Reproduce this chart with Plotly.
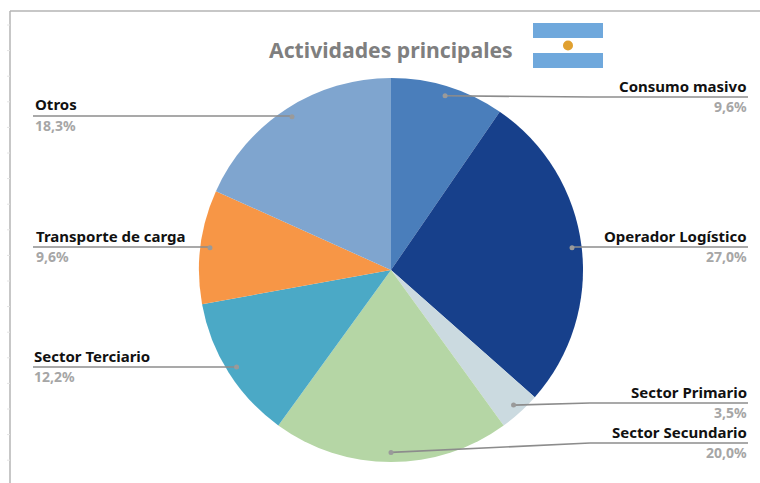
import math
import plotly.graph_objects as go

W, H = 760, 483
categories = ["Consumo masivo", "Operador Logístico", "Sector Primario", "Sector Secundario",
              "Sector Terciario", "Transporte de carga", "Otros"]
values = [9.6, 27.0, 3.5, 20.0, 12.2, 9.6, 18.3]
value_labels = ["9,6%", "27,0%", "3,5%", "20,0%", "12,2%", "9,6%", "18,3%"]
colors = ["#4A7EBB", "#17408B", "#CBDAE0", "#B5D6A5", "#4BA9C6", "#F79646", "#7FA5CF"]

CX, CY, R = 391, 270, 192
px = lambda x: x / W
py = lambda y: 1 - y / H

# label layout: side, line y, elbow x (None = straight), text edge x
label_layout = [
    ("right", 97, 590, 748), ("right", 247, None, 748), ("right", 403, 590, 748), ("right", 443, 590, 748),
    ("left", 367, None, 33), ("left", 247, None, 35), ("left", 116, None, 34),
]

fig = go.Figure(go.Pie(
    labels=categories, values=values, sort=False, direction="clockwise", rotation=0,
    marker=dict(colors=colors, line=dict(width=0)), textinfo="none", hoverinfo="label+percent",
    showlegend=False,
    domain=dict(x=[px(CX - R), px(CX + R)], y=[py(CY + R), py(CY - R)]),
))

shapes, annotations = [], []
GREY = "#8c8c8c"
LW = 1.6
def line(x0, y0, x1, y1, color=GREY, width=LW):
    shapes.append(dict(type="line", xref="paper", yref="paper", x0=px(x0), y0=py(y0), x1=px(x1), y1=py(y1),
                       line=dict(color=color, width=width)))

total = sum(values)
cum = 0
for cat, v, vl, (side, ly, elbow, tx) in zip(categories, values, value_labels, label_layout):
    a = 2 * math.pi * (cum + v / 2) / total
    cum += v
    dx, dy = CX + 0.95 * R * math.sin(a), CY - 0.95 * R * math.cos(a)
    edge = 748 if side == "right" else 33
    if elbow:
        line(dx, dy, elbow, ly)
        line(elbow, ly, edge, ly)
    else:
        line(dx, ly, edge, ly)
    shapes.append(dict(type="circle", xref="paper", yref="paper",
                       x0=px(dx - 2.5), x1=px(dx + 2.5), y0=py(dy + 2.5), y1=py(dy - 2.5),
                       fillcolor="#9a9a9a", line=dict(width=0)))
    anchor = "right" if side == "right" else "left"
    annotations.append(dict(xref="paper", yref="paper", x=px(tx), y=py(ly - 0.5), xanchor=anchor, yanchor="bottom",
                            text=f"<b>{cat}</b>", showarrow=False, borderpad=0,
                            font=dict(family="Noto Sans", size=15, color="#111111")))
    annotations.append(dict(xref="paper", yref="paper", x=px(tx), y=py(ly - 1), xanchor=anchor, yanchor="top",
                            text=f"<b>{vl}</b>", showarrow=False, borderpad=0,
                            font=dict(family="Noto Sans", size=14, color="#a6a6a6")))

annotations.append(dict(xref="paper", yref="paper", x=px(391), y=py(49), xanchor="center", yanchor="middle",
                        text="<b>Actividades principales</b>", showarrow=False,
                        font=dict(family="Noto Sans", size=21.2, color="#7f7f7f")))

# frame and tick stubs
line(10, 11, 760, 11, "#b5b5b5", 1.5)
line(10, 11, 10, 483, "#b5b5b5", 1.5)
for i in range(18):
    y = 25 + i * 25.6
    line(7, y, 10, y, "#e4e4e4", 1)

# flag
def rect(x0, y0, x1, y1, c):
    shapes.append(dict(type="rect", xref="paper", yref="paper", x0=px(x0), x1=px(x1), y0=py(y1), y1=py(y0),
                       fillcolor=c, line=dict(width=0)))
rect(533, 23, 603, 38, "#6FA8DC")
rect(533, 53, 603, 68, "#6FA8DC")
shapes.append(dict(type="circle", xref="paper", yref="paper", x0=px(563), x1=px(573), y0=py(50.5), y1=py(40.5),
                   fillcolor="#E0A030", line=dict(width=0)))

fig.update_layout(width=W, height=H, margin=dict(l=0, r=0, t=0, b=0), paper_bgcolor="white",
                  shapes=shapes, annotations=annotations)
fig.write_html("out.html", config=dict(displayModeBar=False), post_script="document.body.style.margin='0';")
